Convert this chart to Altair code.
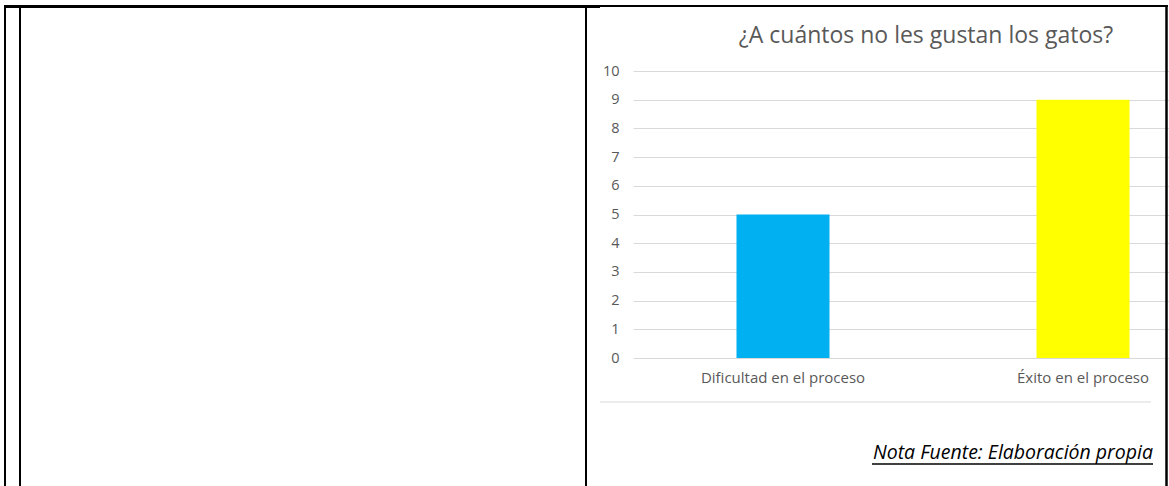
import altair as alt
import pandas as pd

# Chart values
categorias = ["Dificultad en el proceso", "Éxito en el proceso"]
valores = [5, 9]
colores = ["#00b0f0", "#ffff00"]
marcas_y = [0, 1, 2, 3, 4, 5, 6, 7, 8, 9, 10]

titulo = "¿A cuántos no les gustan los gatos?"
nota = "Nota Fuente: Elaboración propia"

df = pd.DataFrame({"categoria": categorias, "valor": valores})

FONT = "Open Sans"
GRIS = "#595959"
# plot-area origin in page pixels and its size
X0, Y0 = 633, 71
W, H = 518, 287

uno = alt.Data(values=[{}])


def hline(x1, x2, y, w, color="black"):
    return alt.Chart(uno).mark_rule(color=color, strokeWidth=w).encode(
        x=alt.value(x1 - X0), x2=alt.value(x2 - X0), y=alt.value(y - Y0)
    )


def vline(x, y1, y2, w, color="black"):
    return alt.Chart(uno).mark_rule(color=color, strokeWidth=w).encode(
        x=alt.value(x - X0), y=alt.value(y1 - Y0), y2=alt.value(y2 - Y0)
    )


barras = alt.Chart(df).mark_bar().encode(
    x=alt.X(
        "categoria:N",
        sort=categorias,
        scale=alt.Scale(range=[0, 600], paddingInner=0.69, paddingOuter=0.345),
        axis=alt.Axis(
            title=None, labelAngle=0, domain=False, ticks=False, grid=False,
            labelPadding=12, labelFont=FONT, labelFontSize=15, labelColor=GRIS,
        ),
    ),
    y=alt.Y(
        "valor:Q",
        scale=alt.Scale(domain=[0, 10], nice=False),
        axis=alt.Axis(
            title=None, values=marcas_y, domain=False, ticks=False,
            labelPadding=14, labelFont=FONT, labelFontSize=14.5, labelColor=GRIS,
            gridColor="#d9d9d9", gridWidth=1,
        ),
    ),
    color=alt.Color("categoria:N", scale=alt.Scale(domain=categorias, range=colores), legend=None),
)

texto_titulo = alt.Chart(uno).mark_text(
    text=titulo, font=FONT, fontSize=23, color=GRIS, align="center", baseline="middle"
).encode(x=alt.value(926 - X0), y=alt.value(36 - Y0))

texto_nota = alt.Chart(uno).mark_text(
    text=nota, font=FONT, fontSize=19.5, fontStyle="italic", color="black",
    align="right", baseline="middle",
).encode(x=alt.value(1153 - X0), y=alt.value(453 - Y0))

capas = [
    barras,
    texto_titulo,
    texto_nota,
    hline(872, 1153, 464, 1.3),          # underline of the note
    hline(600, 1151, 402, 1, "#d9d9d9"),  # chart-area separator
    # table borders
    hline(4, 600, 6.5, 3),
    hline(600, 1168, 6, 2),
    vline(5, 5, 486, 2),
    vline(20, 5, 486, 2),
    vline(586, 7, 486, 2),
    vline(1166.5, 5, 486, 2.5),
]

chart = alt.layer(*capas).properties(
    width=W, height=H,
    padding={"left": X0, "top": Y0, "right": 1169 - X0 - W, "bottom": 486 - Y0 - H},
    autosize="none",
    background="white",
).configure_view(stroke=None)

chart.save("out.html", embed_options={"renderer": "svg", "actions": False})
